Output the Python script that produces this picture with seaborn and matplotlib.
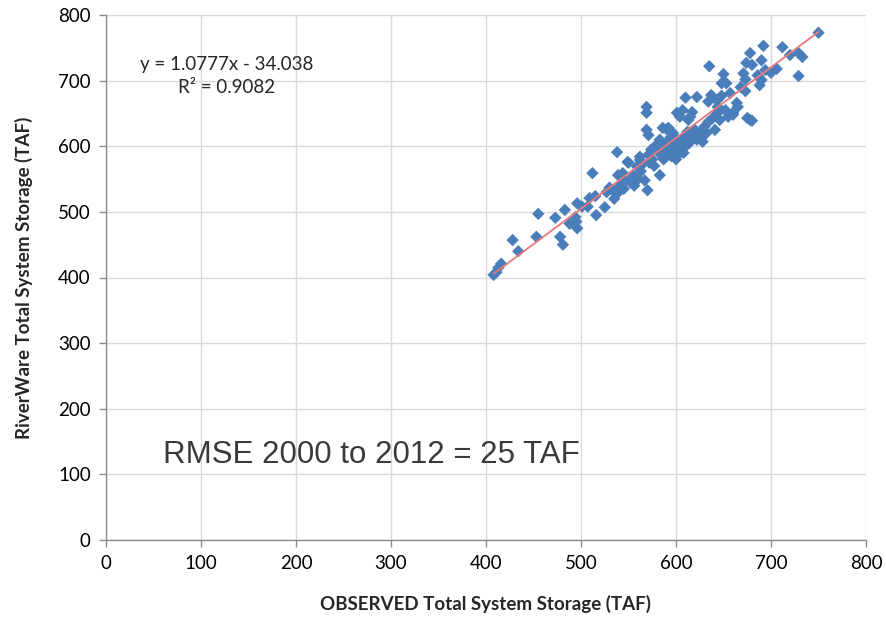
import numpy as np
import pandas as pd
import matplotlib
matplotlib.use("Agg")
import matplotlib.pyplot as plt
import seaborn as sns

observed = [408, 411, 413, 416, 428, 434, 453, 455, 473, 478, 481, 483, 488, 494, 495, 496, 496, 501, 507, 509,
            512, 515, 516, 525, 527, 530, 533, 535, 538, 538, 539, 541, 544, 545, 547, 549, 550, 552, 555, 556,
            559, 560, 562, 562, 563, 565, 567, 569, 569, 569, 570, 571, 571, 572, 574, 575, 577, 578, 580, 582,
            583, 583, 585, 586, 587, 588, 590, 590, 591, 592, 593, 594, 595, 596, 597, 598, 599, 600, 601, 601,
            602, 603, 604, 605, 606, 607, 608, 609, 610, 610, 612, 613, 614, 615, 616, 617, 618, 620, 622, 622,
            624, 627, 628, 628, 630, 632, 634, 634, 635, 637, 638, 641, 643, 644, 644, 646, 648, 648, 650, 652,
            653, 655, 657, 660, 660, 664, 665, 668, 671, 673, 673, 674, 675, 678, 678, 680, 680, 686, 688, 690,
            690, 692, 694, 700, 706, 712, 720, 729, 729, 733, 750]
riverware = [404, 408, 415, 421, 457, 440, 462, 497, 491, 462, 450, 503, 482, 492, 485, 475, 513, 508, 508, 521,
             559, 524, 495, 507, 530, 537, 533, 520, 528, 591, 556, 540, 559, 535, 548, 576, 575, 545, 555, 540,
             569, 550, 579, 584, 562, 573, 548, 660, 651, 625, 533, 617, 587, 575, 595, 580, 570, 600, 602, 590,
             556, 610, 594, 628, 580, 598, 626, 605, 588, 628, 595, 613, 585, 600, 620, 592, 605, 580, 610, 651,
             598, 588, 645, 600, 608, 655, 590, 615, 674, 600, 622, 640, 605, 645, 612, 652, 617, 625, 610, 675,
             618, 614, 625, 607, 630, 620, 637, 668, 722, 678, 642, 625, 670, 660, 651, 640, 696, 677, 710, 655,
             696, 645, 681, 648, 651, 666, 660, 690, 711, 702, 684, 727, 643, 640, 742, 724, 639, 708, 693, 701,
             731, 753, 716, 712, 718, 751, 739, 742, 707, 736, 773]

slope = 1.0777
intercept = -34.038
x_ticks = [0, 100, 200, 300, 400, 500, 600, 700, 800]
y_ticks = [0, 100, 200, 300, 400, 500, 600, 700, 800]

df = pd.DataFrame({"obs": observed, "rw": riverware})

sns.set_theme(style="white")
plt.rcParams['font.family'] = ['Lato', 'DejaVu Sans']

fig = plt.figure(figsize=(8.86, 6.2), dpi=100)
ax = fig.add_axes([106/886, 1-540/620, 760/886, 525/620])

sns.scatterplot(data=df, x="obs", y="rw", marker="D", s=40, color="#4A7EBB",
                edgecolor="none", ax=ax, zorder=3)

xl = np.array([min(observed), max(observed)])
ax.plot(xl, slope*xl + intercept, color="#E8787A", lw=1.3, zorder=4)

ax.set_xlim(0, 800)
ax.set_ylim(0, 800)
ax.set_xticks(x_ticks)
ax.set_yticks(y_ticks)
ax.set_xticklabels([str(t) for t in x_ticks])
ax.set_yticklabels([str(t) for t in y_ticks])
ax.grid(True, color="#D9D9D9", lw=1.0, zorder=0)
ax.set_axisbelow(True)
for s in ["top", "right"]:
    ax.spines[s].set_visible(False)
for s in ["left", "bottom"]:
    ax.spines[s].set_color("#8C8C8C")
    ax.spines[s].set_linewidth(1.0)
ax.tick_params(axis="both", which="both", direction="out", length=5, width=1,
               color="#8C8C8C", labelsize=13.5, labelcolor="#000000", pad=6,
               bottom=True, left=True)

ax.set_xlabel("OBSERVED Total System Storage (TAF)", fontsize=13.5, fontweight="bold", labelpad=16)
ax.set_ylabel("RiverWare Total System Storage (TAF)", fontsize=13.5, fontweight="bold", labelpad=18)

ax.text(127, 724, "y = 1.0777x - 34.038", fontsize=13.5, ha="center", va="center")
ax.text(127, 690, "R² = 0.9082", fontsize=13.5, ha="center", va="center")
ax.text(60, 130, "RMSE 2000 to 2012 = 25 TAF", fontsize=22.5, ha="left", va="center",
        family=["Liberation Sans", "DejaVu Sans"], color="#3A3A3A")

fig.savefig("out.png", dpi=100)
